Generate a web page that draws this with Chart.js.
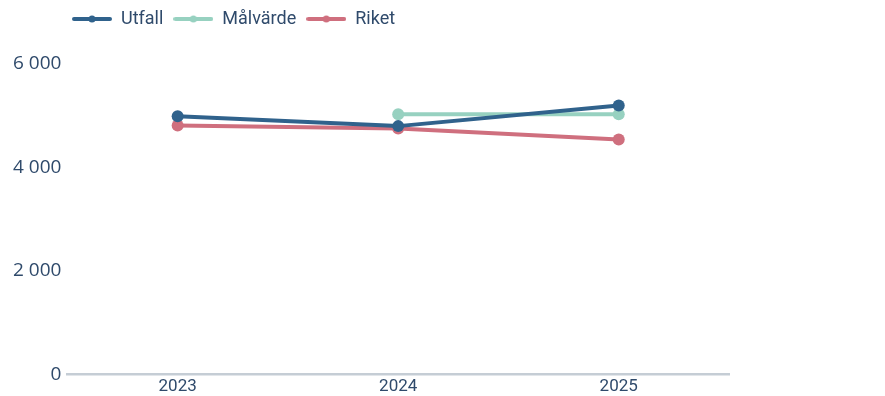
<!DOCTYPE html>
<html>
<head>
<meta charset="utf-8">
<script src="https://cdn.jsdelivr.net/npm/chart.js@4/dist/chart.umd.min.js"></script>
<style>
html,body{margin:0;padding:0;background:#fff;}
#wrap{width:885px;height:396px;position:relative;}
</style>
</head>
<body>
<div id="wrap"><canvas id="c"></canvas></div>
<script>
const categories = ['2023', '2024', '2025'];
const utfall = [4990, 4800, 5200];
const malvarde = [null, 5030, 5030];
const riket = [4810, 4755, 4540];
const yTicks = [0, 2000, 4000, 6000];

const COLORS = { utfall: '#30628c', malvarde: '#97d1c0', riket: '#cf6f7e' };
const TEXT = '#2f4a6b';

function marker(color) {
  const c = document.createElement('canvas');
  c.width = 40; c.height = 10;
  const g = c.getContext('2d');
  g.strokeStyle = color; g.lineWidth = 4; g.lineCap = 'round';
  g.beginPath(); g.moveTo(2, 5); g.lineTo(38, 5); g.stroke();
  g.fillStyle = color;
  g.beginPath(); g.arc(20, 5, 3.5, 0, Math.PI * 2); g.fill();
  return c;
}

const legendTweak = {
  id: 'legendTweak',
  beforeLayout(chart) {
    const lg = chart.legend;
    if (lg && !lg._patched) {
      const f = lg.fit;
      lg.fit = function () { f.call(this); this.height += 26; };
      lg._patched = true;
    }
  },
  afterLayout(chart) {
    if (chart.legend) { chart.legend.left += 55; }
  }
};

function ds(label, data, color) {
  return {
    label, data,
    borderColor: color, backgroundColor: color,
    borderWidth: 4, pointRadius: 6, pointHoverRadius: 7,
    pointBackgroundColor: color, pointBorderWidth: 0,
    tension: 0, spanGaps: false
  };
}

new Chart(document.getElementById('c'), {
  type: 'line',
  data: {
    labels: categories,
    datasets: [
      ds('Utfall', utfall, COLORS.utfall),
      ds('Målvärde', malvarde, COLORS.malvarde),
      ds('Riket', riket, COLORS.riket)
    ]
  },
  options: {
    responsive: true,
    maintainAspectRatio: false,
    animation: false,
    layout: { padding: { left: 7, right: 156, top: 0, bottom: -3 } },
    plugins: {
      title: { display: false },
      tooltip: { enabled: true },
      legend: {
        display: true,
        position: 'top',
        align: 'start',
        labels: {
          color: TEXT,
          font: { family: 'Roboto', size: 18 },
          usePointStyle: true,
          pointStyleWidth: 40,
          padding: 10,
          generateLabels(chart) {
            return chart.data.datasets.map((d, i) => ({
              text: d.label,
              fillStyle: d.borderColor,
              strokeStyle: d.borderColor,
              lineWidth: 0,
              pointStyle: marker(d.borderColor),
              hidden: !chart.isDatasetVisible(i),
              datasetIndex: i,
              fontColor: TEXT
            }));
          }
        }
      }
    },
    scales: {
      x: {
        offset: true,
        grid: { display: false, drawTicks: false },
        border: { display: true, color: '#c5cdd5', width: 2.5 },
        ticks: { color: TEXT, font: { family: 'Roboto', size: 17 }, padding: 2 }
      },
      y: {
        min: 0, max: 6000,
        afterBuildTicks(axis) { axis.ticks = yTicks.map(v => ({ value: v })); },
        grid: { display: false, drawTicks: false },
        border: { display: false },
        ticks: {
          color: TEXT,
          font: { family: 'Open Sans', size: 19 },
          padding: 6,
          callback: v => String(v).replace(/\B(?=(\d{3})+(?!\d))/g, ' ')
        }
      }
    }
  },
  plugins: [legendTweak]
});
</script>
</body>
</html>
